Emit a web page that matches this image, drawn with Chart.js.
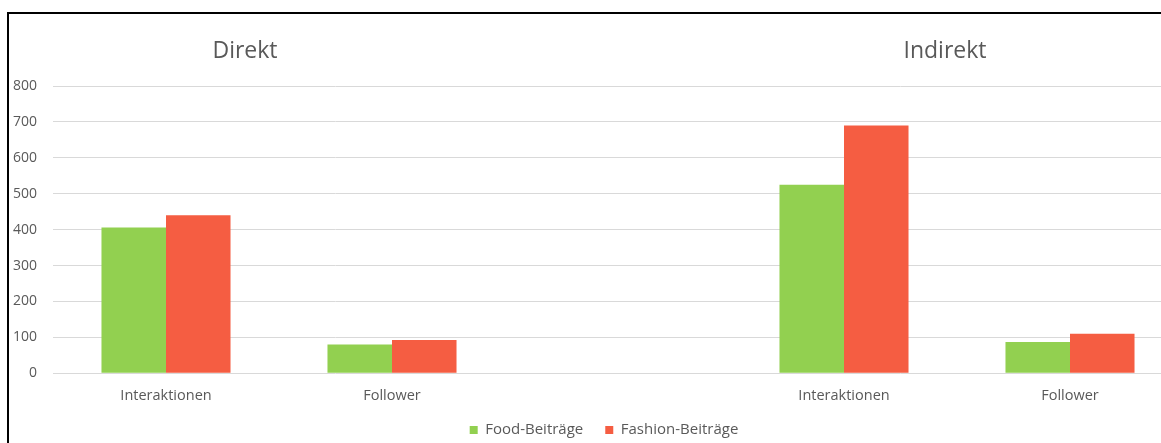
<!DOCTYPE html>
<html>
<head>
<meta charset="utf-8">
<script src="https://cdn.jsdelivr.net/npm/chart.js@4"></script>
<style>
  html, body { margin: 0; padding: 0; background: #fff; overflow: hidden; }
  #wrap { position: absolute; left: 0; top: 0; width: 1208px; height: 443px; }
</style>
</head>
<body>
<div id="wrap"><canvas id="c" width="1208" height="443"></canvas></div>
<script>
// Category slots: two groups (Direkt, Indirekt) separated by an empty slot
const categories = ['Interaktionen', 'Follower', '', 'Interaktionen', 'Follower'];
const foodValues = [406, 80, null, 525, 87];
const fashionValues = [440, 93, null, 690, 110];
const groupTitles = ['Direkt', 'Indirekt'];
const seriesNames = ['Food-Beiträge', 'Fashion-Beiträge'];
const yMin = 0, yMax = 800, yStep = 100;

const textColor = '#595959';
const fontFamily = '"Open Sans", "Noto Sans", sans-serif';

// Group headings and the frame lines along the top and left edge
const decorations = {
  id: 'decorations',
  afterDraw(chart) {
    const ctx = chart.ctx;
    ctx.save();
    ctx.fillStyle = '#000';
    ctx.fillRect(7, 12, 1208, 2);
    ctx.fillRect(7, 12, 2, 443);
    ctx.fillStyle = textColor;
    ctx.font = '23px ' + fontFamily;
    ctx.textAlign = 'center';
    ctx.textBaseline = 'alphabetic';
    ctx.fillText(groupTitles[0], 245, 58);
    ctx.fillText(groupTitles[1], 945, 58);
    ctx.restore();
  }
};

// Legend band: fixed height below the axis, and centred over the full canvas width
const legendBand = {
  id: 'legendBand',
  afterInit(chart) {
    const lg = chart.legend;
    if (lg && !lg._bandPatched) {
      const fit = lg.fit;
      lg.fit = function () { fit.call(this); this.height = 40; };
      lg._bandPatched = true;
    }
  },
  afterLayout(chart) {
    const lg = chart.legend;
    if (lg) {
      lg.left = 0;
      lg.right = chart.width;
      lg.width = chart.width;
      lg.top -= 2.8;
      lg.bottom -= 2.8;
    }
  }
};

new Chart(document.getElementById('c'), {
  type: 'bar',
  data: {
    labels: categories,
    datasets: [
      { label: seriesNames[0], data: foodValues, backgroundColor: '#92d050', borderWidth: 0 },
      { label: seriesNames[1], data: fashionValues, backgroundColor: '#f55d42', borderWidth: 0 }
    ]
  },
  options: {
    responsive: false,
    animation: false,
    devicePixelRatio: 1,
    layout: { padding: { left: 0, right: 25, top: 86, bottom: -0.3 } },
    datasets: { bar: { categoryPercentage: 0.571, barPercentage: 1 } },
    scales: {
      x: {
        afterFit(s) { s.height = 30; },
        grid: { display: false, drawTicks: false },
        border: { display: false },
        ticks: { color: textColor, font: { family: fontFamily, size: 14.5 }, padding: 13.5, maxRotation: 0, autoSkip: false }
      },
      y: {
        min: yMin, max: yMax,
        afterFit(s) { s.width = 53; },
        grid: { color: '#d9d9d9', lineWidth: 1, drawTicks: false },
        border: { display: false },
        ticks: { stepSize: yStep, color: textColor, font: { family: fontFamily, size: 14 }, padding: 16 }
      }
    },
    plugins: {
      legend: {
        position: 'bottom',
        labels: { color: textColor, font: { family: fontFamily, size: 15 }, boxWidth: 8, boxHeight: 8, padding: 22 }
      },
      tooltip: { enabled: false },
      title: { display: false }
    }
  },
  plugins: [decorations, legendBand]
});
</script>
</body>
</html>
